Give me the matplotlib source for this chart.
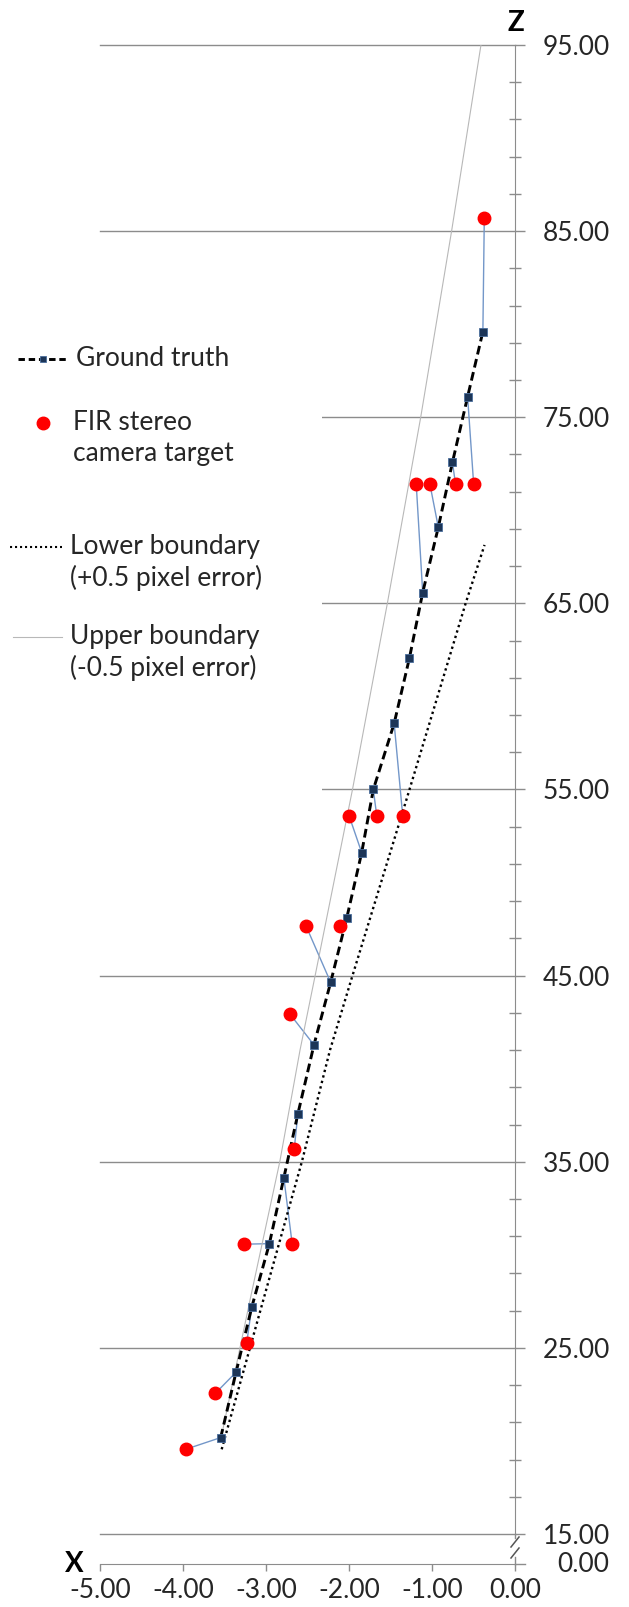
import matplotlib.pyplot as plt
from matplotlib.patches import Rectangle
from matplotlib.ticker import FixedLocator, FormatStrFormatter

plt.rcParams['font.family'] = ['Lato', 'DejaVu Sans']
plt.rcParams['axes.unicode_minus'] = False

# ground truth target positions (lateral x, depth z)
gt_x = [-3.546, -3.361, -3.172, -2.959, -2.785, -2.616, -2.422, -2.221, -2.028,
        -1.847, -1.707, -1.456, -1.272, -1.112, -0.924, -0.754, -0.571, -0.387]
gt_z = [20.18, 23.69, 27.18, 30.60, 34.14, 37.57, 41.28, 44.64, 48.08,
        51.61, 55.00, 58.55, 62.06, 65.58, 69.09, 72.57, 76.10, 79.60]

# FIR stereo camera estimates, and the ground truth index each one belongs to
fir_x = [-3.968, -3.610, -3.233, -3.264, -2.684, -2.660, -2.711, -2.518, -2.108,
         -2.000, -1.666, -1.353, -1.190, -1.025, -0.716, -0.498, -0.370]
fir_z = [19.55, 22.56, 25.25, 30.57, 30.57, 35.68, 42.93, 47.67, 47.67,
         53.60, 53.60, 53.60, 71.40, 71.40, 71.40, 71.40, 85.70]
fir_gt = [0, 1, 2, 3, 4, 5, 6, 7, 8, 9, 10, 11, 13, 14, 15, 16, 17]

# +0.5 / -0.5 pixel disparity error boundaries
lower_x = [-3.534, -2.568, -2.229, -1.958, -1.305, -0.595, -0.367]
lower_z = [19.55, 35.00, 41.00, 45.00, 54.50, 65.00, 68.14]
upper_x = [-3.530, -3.196, -2.834, -2.590, -2.408, -1.958, -1.538, -1.136, -0.764, -0.410]
upper_z = [20.40, 27.50, 35.00, 41.00, 45.00, 55.00, 65.00, 75.00, 85.00, 95.00]

x_ticks = [-5, -4, -3, -2, -1, 0]
z_ticks = [15, 25, 35, 45, 55, 65, 75, 85, 95]
z_minor = [z for z in range(17, 95, 2) if (z - 15) % 10]

W, H = 629, 1607
grid_c = '#8c8c8c'
text_c = '#262626'
red = '#ff0000'
gt_face, gt_edge = '#1c3557', '#4a6d9c'
link_c = '#7397c9'
upper_c = '#b8b8b8'
fs = 19

fig = plt.figure(figsize=(W / 100, H / 100), dpi=100)
ax = fig.add_axes([100 / W, 73 / H, 415 / W, 1489 / H])
ax.set_xlim(-5, 0)
ax.set_ylim(15, 95)

ax.yaxis.grid(True, color=grid_c, lw=1.0)
ax.set_axisbelow(True)

# thin links between each estimate and its ground truth point
for fx, fz, g in zip(fir_x, fir_z, fir_gt):
    ax.plot([fx, gt_x[g]], [fz, gt_z[g]], color=link_c, lw=1.0, zorder=2)

ax.plot(upper_x, upper_z, color=upper_c, lw=0.8, zorder=3)
ax.plot(lower_x, lower_z, color='black', lw=1.7, ls=(0, (1, 1.4)), zorder=3)
ax.plot(gt_x, gt_z, color='black', lw=2.1, ls=(0, (3, 1.6)), marker='s', ms=5.5,
        mfc=gt_face, mec=gt_edge, mew=0.6, zorder=4)
ax.plot(fir_x, fir_z, 'o', color=red, ms=9, zorder=5)

for side in ['left', 'top']:
    ax.spines[side].set_visible(False)
ax.spines['right'].set_color(grid_c)
ax.spines['bottom'].set_color(grid_c)
ax.spines['bottom'].set_position(('outward', 21.6))

ax.yaxis.tick_right()
ax.set_yticks(z_ticks)
ax.yaxis.set_minor_locator(FixedLocator(z_minor))
ax.yaxis.set_major_formatter(FormatStrFormatter('%.2f'))
ax.set_xticks(x_ticks)
ax.xaxis.set_major_formatter(FormatStrFormatter('%.2f'))

ax.tick_params(axis='y', which='major', direction='out', length=7.2, width=1,
               color=grid_c, pad=13, labelsize=fs, labelcolor=text_c)
ax.tick_params(axis='y', which='minor', direction='inout', length=8.6, width=1,
               color=grid_c)
ax.tick_params(axis='x', direction='out', length=5, width=1, color=grid_c,
               pad=5, labelsize=fs, labelcolor=text_c)

# keep the gridlines on the axes edges (15 and 95) at full width
for line in ax.get_ygridlines():
    line.set_clip_on(False)

# overlay in pixel units for the legend, axis names and the axis break
lax = fig.add_axes([0, 0, 1, 1], zorder=10)
lax.set_xlim(0, W)
lax.set_ylim(H, 0)
lax.axis('off')
lax.patch.set_visible(False)

lax.text(516, 23, 'Z', ha='center', va='center', fontsize=20, fontweight='bold', color='black')
lax.text(74, 1564, 'X', ha='center', va='center', fontsize=20, fontweight='bold', color='black')

# broken z axis between 15 and 0
lax.plot([515, 515], [1534, 1538], color=grid_c, lw=1.0)
lax.plot([515, 515], [1557, 1564], color=grid_c, lw=1.0)
lax.plot([515, 525], [1564, 1564], color=grid_c, lw=1.0)
lax.plot([511, 519], [1547, 1537], color='#555555', lw=1.1)
lax.plot([511, 519], [1558, 1548], color='#555555', lw=1.1)
lax.text(609, 1564, '0.00', ha='right', va='center', fontsize=fs, color=text_c)

# legend
lax.add_patch(Rectangle((0, 300), 322, 500, fc='white', ec='none'))
lax.plot([18, 68], [359, 359], color='black', lw=2.1, ls=(0, (2.2, 1.3)))
lax.plot([43], [359], 's', ms=5, mfc=gt_face, mec=gt_edge, mew=0.6)
lax.text(76, 359, 'Ground truth', va='center', fontsize=fs, color=text_c)

lax.plot([43], [423], 'o', color=red, ms=9)
lax.text(73, 438.5, 'FIR stereo\ncamera target', va='center', fontsize=fs,
         color=text_c, linespacing=1.3)

lax.plot([10, 62], [547, 547], color='black', lw=1.5, ls=(0, (1, 1.4)))
lax.text(70, 562.5, 'Lower boundary\n(+0.5 pixel error)', va='center', fontsize=fs,
         color=text_c, linespacing=1.3)

lax.plot([13, 62], [637, 637], color=upper_c, lw=0.8)
lax.text(70, 652.5, 'Upper boundary\n(-0.5 pixel error)', va='center', fontsize=fs,
         color=text_c, linespacing=1.3)

fig.savefig('out.png', dpi=100)
